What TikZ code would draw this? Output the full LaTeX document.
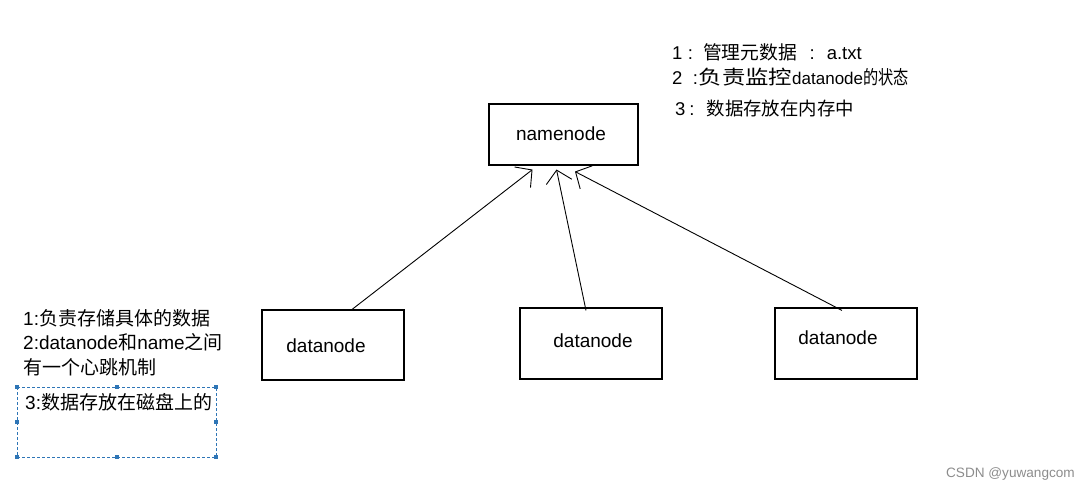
\documentclass[tikz,border=0pt]{standalone}
\usepackage{fontspec}
\usepackage{graphicx}
\setmainfont{Liberation Sans}
\newfontfamily\cjk{Noto Sans CJK SC}
\usetikzlibrary{arrows.meta}
\definecolor{selblue}{HTML}{2E75B6}
\newcommand\zh[2]{{\fontsize{#1}{#1}\selectfont\cjk #2}}
\tikzset{
  box/.style={draw=black, line width=1.1pt, inner sep=0pt},
  lbl/.style={font=\fontsize{19}{22}\selectfont, inner sep=0pt},
  txt/.style={anchor=base west, inner sep=0pt, font=\fontsize{19}{22}\selectfont},
  rtxt/.style={anchor=base west, inner sep=0pt, font=\fontsize{18.5}{22}\selectfont},
  arr/.style={line width=0.9pt, -{Straight Barb[length=12pt,width=26pt,line width=0.9pt]}},
  handle/.style={fill=selblue, inner sep=0pt, minimum size=4pt},
}
\begin{document}
\begin{tikzpicture}[x=1pt,y=-1pt]
\useasboundingbox (0,0) rectangle (1090,488);
% boxes
\node[box, minimum width=149pt, minimum height=61pt] (nn) at (563.5,134.5) {};
\node[lbl] (nnt) at (561,134) {namenode};
\node[box, minimum width=142pt, minimum height=70pt] (d1) at (333,345) {};
\node[lbl] (d1t) at (326,346) {datanode};
\node[box, minimum width=142pt, minimum height=71pt] (d2) at (591,343.5) {};
\node[lbl] (d2t) at (593,341) {datanode};
\node[box, minimum width=142pt, minimum height=71pt] (d3) at (846,343.5) {};
\node[lbl] (d3t) at (838,338) {datanode};
% arrows
\draw[arr] ([xshift=19pt]d1.north) -- ([xshift=-31pt,yshift=-4pt]nn.south);
\draw[arr] ([xshift=-5pt,yshift=-3pt]d2.north) -- ([xshift=-7pt,yshift=-4pt]nn.south);
\draw[arr] ([xshift=-4pt,yshift=-3pt]d3.north) -- ([xshift=11.5pt,yshift=-6pt]nn.south);
% top right notes
\node[rtxt] (n1) at (672,59) {1\hspace{5.5pt}:\hspace{10pt}\zh{18.8}{管理元数据}\hspace{12.5pt}:\hspace{12pt}a.txt};
\node[rtxt] (n2) at (672,84) {2\hspace{10.5pt}:\hspace{0.5pt}\scalebox{1.2}[1]{\zh{19.5}{负责监控}}{\fontsize{17}{18}\selectfont datanode}\scalebox{0.8}[1]{\zh{19}{的状态}}};
\node[rtxt] (n3) at (675,115) {3\hspace{4pt}:\hspace{12pt}\zh{18.4}{数据存放在内存中}};
% left notes
\node[txt] (l1) at (23,325) {1:\zh{19}{负责存储具体的数据}};
\node[txt] (l2) at (23,349) {2:datanode\zh{19}{和}name\zh{19}{之间}};
\node[txt] (l3) at (23,374) {\zh{19}{有一个心跳机制}};
% dashed selection box
\draw[selblue, line width=0.9pt, dash pattern=on 3pt off 2pt] (17,387) rectangle (216,457);
\node[txt] (l4) at (25,409) {3:\zh{19}{数据存放在磁盘上的}};
\foreach \p/\n in {{(17,387)}/h1,{(116.5,387)}/h2,{(216,387)}/h3,{(17,422)}/h4,{(216,422)}/h5,{(17,457)}/h6,{(116.5,457)}/h7,{(216,457)}/h8}
  \node[handle] (\n) at \p {};
% watermark
\node[anchor=base east, inner sep=0pt, text=black!45, font=\fontsize{13.6}{15}\selectfont] (wm) at (1075,477) {CSDN @yuwangcom};
\end{tikzpicture}
\end{document}
